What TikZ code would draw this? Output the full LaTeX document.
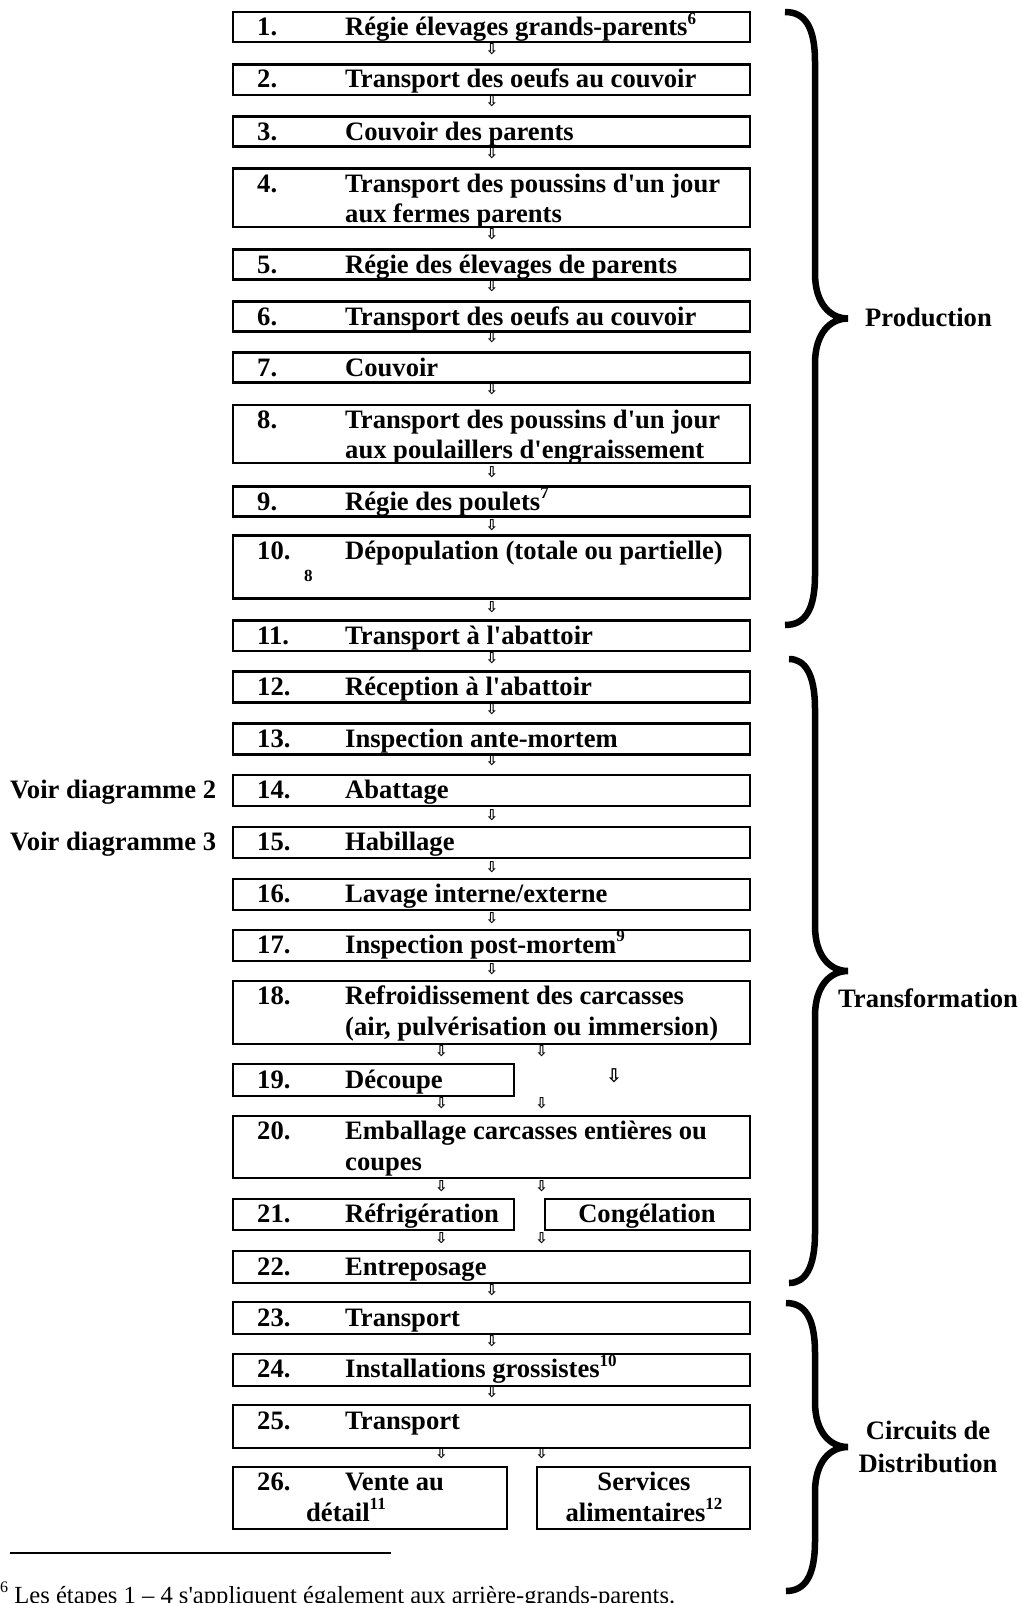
\documentclass[tikz,border=0pt]{standalone}
\usepackage{fontspec}
\setmainfont{Liberation Serif}[Ligatures=TeXOff]
\newfontfamily\arrowfont{DejaVu Sans Bold}
\newcommand\fnm[1]{\raisebox{0.42em}{\fontsize{17}{17}\selectfont #1}}
\tikzset{
  box/.style={draw, line width=2.4pt, inner sep=0pt, outer sep=0pt, anchor=north west},
  lbl/.style={font=\fontsize{26.6}{30.6}\selectfont\bfseries, inner sep=0pt, anchor=base west},
  clbl/.style={lbl, anchor=base},
  arr/.style={font=\arrowfont\fontsize{15}{15}\selectfont, inner sep=0pt},
  bigarr/.style={font=\arrowfont\fontsize{19}{19}\selectfont, inner sep=0pt},
  curly/.style={line width=6.5pt},
  foot/.style={font=\fontsize{24.6}{28}\selectfont, inner sep=0pt, anchor=base west}
}
\newcommand\curlybrace[5]{%
  \pgfmathsetmacro\ym{(#4+#5)/2}%
  \draw[curly] (#1,#4) .. controls (#2-10,#4) and (#2,#4+15) .. (#2,#4+50)
    -- (#2,\ym-45) .. controls (#2,\ym-15) and (#3-18,\ym) .. (#3,\ym)
    .. controls (#3-18,\ym) and (#2,\ym+15) .. (#2,\ym+45)
    -- (#2,#5-50) .. controls (#2,#5-15) and (#2-10,#5) .. (#1,#5);}
\begin{document}
\begin{tikzpicture}[x=1pt,y=-1pt]
\useasboundingbox (0,0) rectangle (1021,1603);
% boxes
\node[box, minimum width=517pt, minimum height=30pt] (b1) at (233,12.3) {};
\node[box, minimum width=517pt, minimum height=30.5pt] (b2) at (233,64.4) {};
\node[box, minimum width=517pt, minimum height=30pt] (b3) at (233,116.5) {};
\node[box, minimum width=517pt, minimum height=58.5pt] (b4) at (233,168.6) {};
\node[box, minimum width=517pt, minimum height=30pt] (b5) at (233,249.4) {};
\node[box, minimum width=517pt, minimum height=30pt] (b6) at (233,301.5) {};
\node[box, minimum width=517pt, minimum height=30pt] (b7) at (233,352.6) {};
\node[box, minimum width=517pt, minimum height=58.5pt] (b8) at (233,404.7) {};
\node[box, minimum width=517pt, minimum height=30pt] (b9) at (233,486.5) {};
\node[box, minimum width=517pt, minimum height=63pt] (b10) at (233,535.5) {};
\node[box, minimum width=517pt, minimum height=30.5pt] (b11) at (233,620.4) {};
\node[box, minimum width=517pt, minimum height=31pt] (b12) at (233,671.5) {};
\node[box, minimum width=517pt, minimum height=31pt] (b13) at (233,723.6) {};
\node[box, minimum width=517pt, minimum height=31pt] (b14) at (233,774.7) {};
\node[box, minimum width=517pt, minimum height=31pt] (b15) at (233,826.8) {};
\node[box, minimum width=517pt, minimum height=31pt] (b16) at (233,878.9) {};
\node[box, minimum width=517pt, minimum height=31pt] (b17) at (233,930) {};
\node[box, minimum width=517pt, minimum height=63pt] (b18) at (233,981) {};
\node[box, minimum width=281pt, minimum height=32pt] (b19) at (233,1064) {};
\node[box, minimum width=517pt, minimum height=62pt] (b20) at (233,1116) {};
\node[box, minimum width=281pt, minimum height=31pt] (b21) at (233,1199) {};
\node[box, minimum width=205pt, minimum height=31pt] (b21b) at (545,1199) {};
\node[box, minimum width=517pt, minimum height=32pt] (b22) at (233,1251) {};
\node[box, minimum width=517pt, minimum height=32pt] (b23) at (233,1302) {};
\node[box, minimum width=517pt, minimum height=32pt] (b24) at (233,1354) {};
\node[box, minimum width=517pt, minimum height=43pt] (b25) at (233,1405) {};
\node[box, minimum width=274pt, minimum height=62pt] (b26) at (233,1467) {};
\node[box, minimum width=213pt, minimum height=62pt] (b26b) at (537,1467) {};
% texts
\node[lbl] (n1) at (257,36) {1.};
\node[lbl] (t1) at (345,36) {Régie élevages grands-parents\fnm{6}};
\node[lbl] (n2) at (257,88) {2.};
\node[lbl] (t2) at (345,88) {Transport des oeufs au couvoir};
\node[lbl] (n3) at (257,140) {3.};
\node[lbl] (t3) at (345,140) {Couvoir des parents};
\node[lbl] (n4) at (257,192) {4.};
\node[lbl] (t4) at (345,192) {Transport des poussins d'un jour};
\node[lbl] (t4b) at (345,222.6) {aux fermes parents};
\node[lbl] (n5) at (257,273) {5.};
\node[lbl] (t5) at (345,273) {Régie des élevages de parents};
\node[lbl] (n6) at (257,325) {6.};
\node[lbl] (t6) at (345,325) {Transport des oeufs au couvoir};
\node[lbl] (n7) at (257,376) {7.};
\node[lbl] (t7) at (345,376) {Couvoir};
\node[lbl] (n8) at (257,428) {8.};
\node[lbl] (t8) at (345,428) {Transport des poussins d'un jour};
\node[lbl] (t8b) at (345,458.6) {aux poulaillers d'engraissement};
\node[lbl] (n9) at (257,510) {9.};
\node[lbl] (t9) at (345,510) {Régie des poulets\fnm{7}};
\node[lbl] (n10) at (257,559) {10.};
\node[lbl] (t10) at (345,559) {Dépopulation (totale ou partielle)};
\node[lbl, font=\fontsize{17}{17}\selectfont\bfseries] (s8) at (304,581) {8};
\node[lbl] (n11) at (257,644) {11.};
\node[lbl] (t11) at (345,644) {Transport à l'abattoir};
\node[lbl] (n12) at (257,695) {12.};
\node[lbl] (t12) at (345,695) {Réception à l'abattoir};
\node[lbl] (n13) at (257,747) {13.};
\node[lbl] (t13) at (345,747) {Inspection ante-mortem};
\node[lbl] (n14) at (257,798) {14.};
\node[lbl] (t14) at (345,798) {Abattage};
\node[lbl] (n15) at (257,850) {15.};
\node[lbl] (t15) at (345,850) {Habillage};
\node[lbl] (n16) at (257,902) {16.};
\node[lbl] (t16) at (345,902) {Lavage interne/externe};
\node[lbl] (n17) at (257,953) {17.};
\node[lbl] (t17) at (345,953) {Inspection post-mortem\fnm{9}};
\node[lbl] (n18) at (257,1004.5) {18.};
\node[lbl] (t18) at (345,1004.5) {Refroidissement des carcasses};
\node[lbl] (t18b) at (345,1035) {(air, pulvérisation ou immersion)};
\node[lbl] (n19) at (257,1088) {19.};
\node[lbl] (t19) at (345,1088) {Découpe};
\node[lbl] (n20) at (257,1139.5) {20.};
\node[lbl] (t20) at (345,1139.5) {Emballage carcasses entières ou};
\node[lbl] (t20b) at (345,1170) {coupes};
\node[lbl] (n21) at (257,1222.5) {21.};
\node[lbl] (t21) at (345,1222.5) {Réfrigération};
\node[clbl] (t21b) at (647,1222.5) {Congélation};
\node[lbl] (n22) at (257,1275) {22.};
\node[lbl] (t22) at (345,1275) {Entreposage};
\node[lbl] (n23) at (257,1326) {23.};
\node[lbl] (t23) at (345,1326) {Transport};
\node[lbl] (n24) at (257,1377.5) {24.};
\node[lbl] (t24) at (345,1377.5) {Installations grossistes\fnm{10}};
\node[lbl] (n25) at (257,1429) {25.};
\node[lbl] (t25) at (345,1429) {Transport};
\node[lbl] (n26) at (257,1490.5) {26.};
\node[lbl] (t26) at (345,1490.5) {Vente au};
\node[lbl] (t26b) at (306,1521) {détail\fnm{11}};
\node[clbl] (t26c) at (644,1490.5) {Services};
\node[clbl] (t26d) at (644,1521) {alimentaires\fnm{12}};
% side labels
\node[lbl] (v2) at (10,798) {Voir diagramme 2};
\node[lbl] (v3) at (10,850) {Voir diagramme 3};
\node[lbl] (lp) at (865,326) {Production};
\node[lbl] (lt) at (838,1007) {Transformation};
\node[clbl] (ld1) at (928,1439) {Circuits de};
\node[clbl] (ld2) at (928,1472) {Distribution};
% arrows
\foreach \y [count=\i] in {49,101,153,234,286,337,389,472,525,607,658,709,760,815,867,918,969,1290,1341,1392}
  \node[arr] (a\i) at (492,\y) {⇩};
\foreach \y [count=\i] in {1051,1103,1186,1238,1453}{
  \node[arr] (al\i) at (441.5,\y) {⇩};
  \node[arr] (ar\i) at (541.7,\y) {⇩};}
\node[bigarr] (ab) at (614,1076) {⇩};
% braces
\curlybrace{785}{815}{848}{12}{625}
\curlybrace{789}{815}{848}{659}{1283}
\curlybrace{786}{815}{848}{1303}{1591}
% footnote
\coordinate (f1) at (10,1553);
\coordinate (f2) at (391,1553);
\draw[line width=1.6pt] (f1) -- (f2);
\node[foot] (fn) at (0,1603) {\raisebox{0.42em}{\fontsize{16}{16}\selectfont 6} Les étapes 1 – 4 s'appliquent également aux arrière-grands-parents.};
\end{tikzpicture}
\end{document}
